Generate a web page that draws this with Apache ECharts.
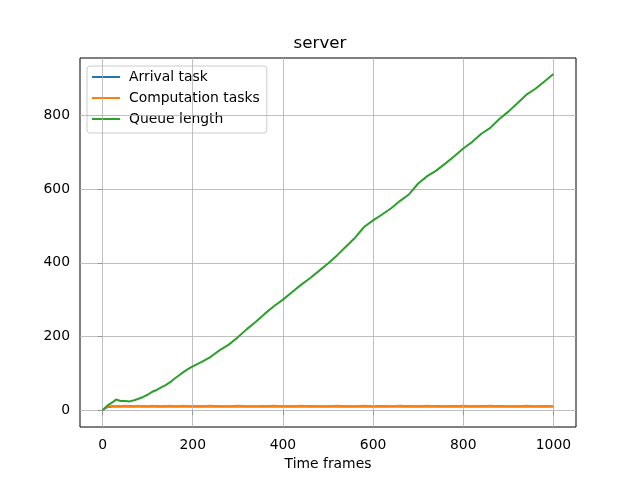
<!DOCTYPE html>
<html><head><meta charset="utf-8">
<script src="https://cdn.jsdelivr.net/npm/echarts@6/dist/echarts.min.js"></script>
<style>html,body{margin:0;padding:0;background:#fff}#c{width:640px;height:480px}</style>
</head><body><div id="c"></div>
<script>
var frames = [0,5,10,15,20,25,30,35,40,50,60,70,80,90,100,110,120,130,140,150,160,170,180,190,200,220,240,260,280,300,320,340,360,380,400,420,440,460,480,500,520,540,560,580,600,620,640,660,680,700,720,740,760,780,800,820,840,860,880,900,920,940,960,980,1000];
var arrival = [0,5,8,9,10,10,10,11,10,10,11,10,10,11,10,10,11,10,11,10,10,11,10,10,11,10,11,10,10,11,10,10,11,10,11,10,10,11,10,10,11,10,10,11,10,11,10,10,11,10,10,11,10,11,10,10,11,10,11,10,10,11,10,11,10];
var computation = [0,6,9,10,11,11,11,11,11,12,11,11,12,11,11,12,11,11,11,12,11,11,12,11,11,11,12,11,11,12,11,11,11,12,11,11,12,11,11,11,12,11,11,12,11,11,11,12,11,11,12,11,11,11,12,11,11,12,11,11,11,12,11,11,11];
var queue = [0,5,12,16,20,24,29,27,25,25,24,27,31,36,42,50,55,62,68,76,86,95,104,112,119,131,145,163,178,198,220,240,262,282,300,320,340,358,378,398,420,444,468,497,515,531,548,568,586,615,635,650,669,689,710,728,750,766,790,810,833,856,872,892,912];
var xTicks = [0,200,400,600,800,1000];
var yTicks = [0,200,400,600,800];
var seriesNames = ['Arrival task','Computation tasks','Queue length'];
var seriesColors = ['#1f77b4','#ff7f0e','#2ca02c'];
var titleText = 'server';
var xLabel = 'Time frames';

function pairs(v){ return frames.map(function(f,i){ return [f, v[i]]; }); }
var font = 'DejaVu Sans';
var chart = echarts.init(document.getElementById('c'), null, {renderer:'canvas'});
var gridLine = {color:'#b0b0b0', width:0.8, type:'solid'};
var dataSeries = [arrival, computation, queue].map(function(v,i){
  return {type:'line', name:seriesNames[i], data:pairs(v), showSymbol:false, symbol:'none', z:3+i,
    itemStyle:{color:seriesColors[i]}, lineStyle:{width:2, color:seriesColors[i]}};
});
dataSeries.push({type:'line', name:'_grid', data:[], silent:true, z:0,
  markLine:{silent:true, symbol:'none', label:{show:false}, lineStyle:gridLine, animation:false,
    data: xTicks.map(function(t){return {xAxis:t};}).concat(yTicks.map(function(t){return {yAxis:t};}))}});
chart.setOption({
  animation:false,
  color:seriesColors,
  title:{text:titleText, left:'center', top:35, padding:0, textStyle:{fontFamily:font, fontSize:16.7, fontWeight:'normal', color:'#000'}},
  grid:{left:80, right:64, top:58, bottom:53, show:true, borderColor:'#000', borderWidth:1, backgroundColor:'transparent'},
  legend:{
    orient:'vertical', left:87, top:66, padding:[4,7,7,5], itemGap:7, itemWidth:28, itemHeight:2,
    icon:'rect', backgroundColor:'rgba(255,255,255,0.8)', borderColor:'#cccccc', borderWidth:1, borderRadius:3,
    textStyle:{fontFamily:font, fontSize:13.9, color:'#000', lineHeight:14, padding:[0,0,0,4]},
    data:seriesNames
  },
  xAxis:{type:'value', min:-50, max:1050,
    name:xLabel, nameLocation:'middle', nameGap:30, nameTextStyle:{fontFamily:font, fontSize:13.9, color:'#000'},
    axisLine:{show:false}, splitLine:{show:false},
    axisTick:{show:true, length:5, lineStyle:{color:'#000', width:0.8}, customValues:xTicks},
    axisLabel:{fontFamily:font, fontSize:13.9, color:'#000', margin:11, customValues:xTicks, formatter:function(v){return String(v);}}
  },
  yAxis:{type:'value', min:-45.5, max:955.5,
    axisLine:{show:false}, splitLine:{show:false},
    axisTick:{show:true, length:5, lineStyle:{color:'#000', width:0.8}, customValues:yTicks},
    axisLabel:{fontFamily:font, fontSize:13.9, color:'#000', margin:10, customValues:yTicks, formatter:function(v){return String(v);}}
  },
  series:dataSeries
});
</script></body></html>
